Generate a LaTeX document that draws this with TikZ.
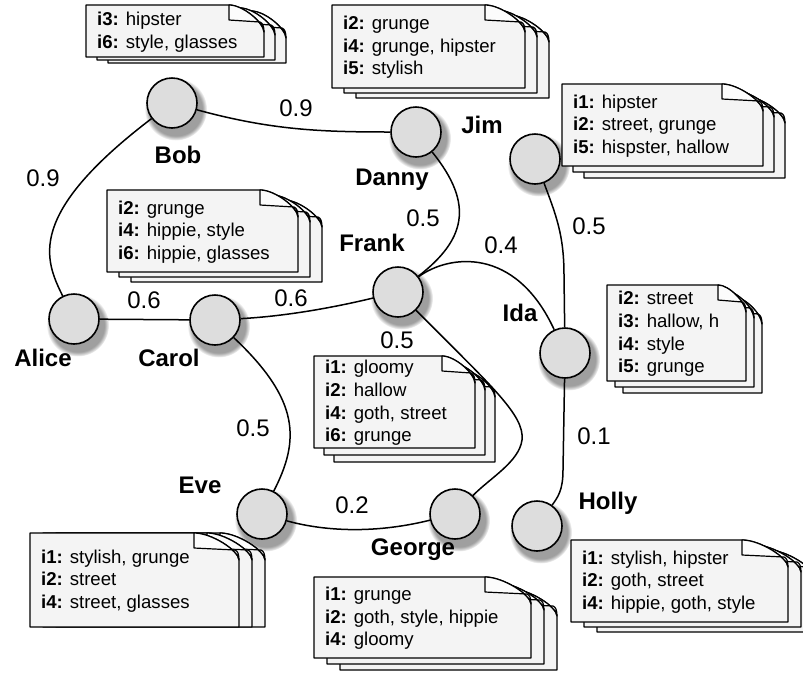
\documentclass[tikz,border=0pt]{standalone}
\usepackage{fontspec}
\setmainfont{Liberation Sans}
\usetikzlibrary{shadows,fadings}

\definecolor{nodefill}{RGB}{221,221,221}
\definecolor{notefill}{RGB}{244,244,244}
\definecolor{foldfill}{RGB}{252,252,252}

\tikzset{
  person/.style={circle, draw=black, line width=1.6pt, fill=nodefill,
    minimum size=50pt, inner sep=0pt,
    circular drop shadow={shadow xshift=3pt, shadow yshift=-5pt, shadow scale=1.25, opacity=0.75}},
  pname/.style={font=\bfseries\fontsize{24}{27}\selectfont, inner sep=0pt},
  weight/.style={font=\fontsize{24}{27}\selectfont, inner sep=0pt},
  link/.style={line width=1.5pt, draw=black},
  notetext/.style={font=\fontsize{18.6}{22.6}\selectfont, align=left, anchor=west, inner sep=0pt},
  notepage/.style={fill=notefill, draw=black, line width=1.4pt, line join=round},
  notefold/.style={fill=foldfill, draw=black, line width=1.2pt, line join=round},
}

% one sheet: x, y (top-left), width, height, fold width
\newcommand\pagesheet[5]{%
  \path[notepage] ({#1},{#2}) -- ({#1+#3-#5},{#2})
    .. controls ({#1+#3-0.6*#5},{#2}) and ({#1+#3},{#2+18}) .. ({#1+#3},{#2+27})
    -- ({#1+#3},{#2+#4}) -- ({#1},{#2+#4}) -- cycle;
  \path[notefold] ({#1+#3-#5},{#2}) -- ({#1+#3-#5},{#2+15}) -- ({#1+#3-4},{#2+17})
    .. controls ({#1+#3-1},{#2+18}) and ({#1+#3},{#2+22}) .. ({#1+#3},{#2+27})
    .. controls ({#1+#3},{#2+18}) and ({#1+#3-0.6*#5},{#2}) .. cycle;
}
% stack of three sheets with text: name, x, y, w, h, fold, dx, dy, text
\newcommand\notestack[9]{%
  \pagesheet{#2+2*#7}{#3+2*#8}{#4}{#5}{#6}
  \pagesheet{#2+#7}{#3+#8}{#4}{#5}{#6}
  \pagesheet{#2}{#3}{#4}{#5}{#6}
  \node[notetext] (#1) at ({#2+11},{#3+#5/2+1}) {#9};
}

\begin{document}
\begin{tikzpicture}[x=1pt,y=-1pt]
\fill[white] (0,0) rectangle (803,673);
\useasboundingbox (0,0) rectangle (803,673);

% persons
\node[person] (bob)    at (172,103) {};
\node[person] (danny)  at (416,132) {};
\node[person] (jim)    at (535,159) {};
\node[person] (frank)  at (398,292) {};
\node[person] (ida)    at (565,353) {};
\node[person] (alice)  at (74,319)  {};
\node[person] (carol)  at (215,320) {};
\node[person] (eve)    at (262,514) {};
\node[person] (george) at (455,514) {};
\node[person] (holly)  at (537,526) {};

% names
\node[pname] (lbob)    at (178,155) {Bob};
\node[pname] (ldanny)  at (392,180) {Danny};
\node[pname] (ljim)    at (482,125) {Jim};
\node[pname] (lfrank)  at (372,243) {Frank};
\node[pname] (lida)    at (520,313) {Ida};
\node[pname] (lalice)  at (43,358)  {Alice};
\node[pname] (lcarol)  at (169,358) {Carol};
\node[pname] (leve)    at (200,485) {Eve};
\node[pname] (lgeorge) at (413,550) {George};
\node[pname] (lholly)  at (608,503) {Holly};

% notes
\notestack{nbob}{86}{5}{178}{52}{35}{11}{3}{\textbf{i3:} hipster\\\textbf{i6:} style, glasses}
\notestack{ndanny}{332}{5}{193}{83}{40}{12}{5}{\textbf{i2:} grunge\\\textbf{i4:} grunge, hipster\\\textbf{i5:} stylish}
\notestack{njim}{562}{84}{201}{82}{41}{11}{6}{\textbf{i1:} hipster\\\textbf{i2:} street, grunge\\\textbf{i5:} hispster, hallow}
\notestack{ncarol}{107}{190}{191}{82}{38}{12}{5}{\textbf{i2:} grunge\\\textbf{i4:} hippie, style\\\textbf{i6:} hippie, glasses}
\notestack{nida}{607}{285}{139}{96}{28}{8}{6}{\textbf{i2:} street\\\textbf{i3:} hallow, h\\\textbf{i4:} style\\\textbf{i5:} grunge}
\notestack{nfrank}{314}{356}{161}{92}{33}{10}{7}{\textbf{i1:} gloomy\\\textbf{i2:} hallow\\\textbf{i4:} goth, street\\\textbf{i6:} grunge}
\notestack{neve}{30}{533}{209}{94}{45}{13}{0}{\textbf{i1:} stylish, grunge\\\textbf{i2:} street\\\textbf{i4:} street, glasses}
\notestack{ngeorge}{314}{577}{217}{81}{46}{13}{6}{\textbf{i1:} grunge\\\textbf{i2:} goth, style, hippie\\\textbf{i4:} gloomy}
\notestack{nholly}{571}{540}{217}{82}{46}{13}{5}{\textbf{i1:} stylish, hipster\\\textbf{i2:} goth, street\\\textbf{i4:} hippie, goth, style}

% links
\draw[link] (bob) .. controls (271,130) and (320,132) .. (danny);
\draw[link] (bob) .. controls (25,215) and (45,260) .. (alice);
\draw[link] (alice) -- (carol);
\draw[link] (carol) .. controls (290,316) and (340,306) .. (frank);
\draw[link] (danny) .. controls (475,205) and (465,240) .. (frank);
\draw[link] (frank) .. controls (448,255) and (515,245) .. (ida);
\draw[link] (jim) .. controls (556,215) and (564,235) .. (564,275) -- (ida);
\draw[link] (frank) .. controls (490,385) and (525,415) .. (522,440)
                    .. controls (519,462) and (490,478) .. (george);
\draw[link] (carol) .. controls (300,400) and (300,440) .. (eve);
\draw[link] (eve) .. controls (320,530) and (370,535) .. (george);
\draw[link] (ida) -- (563,470) .. controls (563,490) and (558,497) .. (holly);

% weights
\node[weight] (w1)  at (296,108) {0.9};
\node[weight] (w2)  at (43,178)  {0.9};
\node[weight] (w3)  at (144,300) {0.6};
\node[weight] (w4)  at (291,298) {0.6};
\node[weight] (w5)  at (423,218) {0.5};
\node[weight] (w6)  at (501,245) {0.4};
\node[weight] (w7)  at (589,226) {0.5};
\node[weight] (w8)  at (397,340) {0.5};
\node[weight] (w9)  at (253,428) {0.5};
\node[weight] (w10) at (352,505) {0.2};
\node[weight] (w11) at (594,436) {0.1};
\end{tikzpicture}
\end{document}
